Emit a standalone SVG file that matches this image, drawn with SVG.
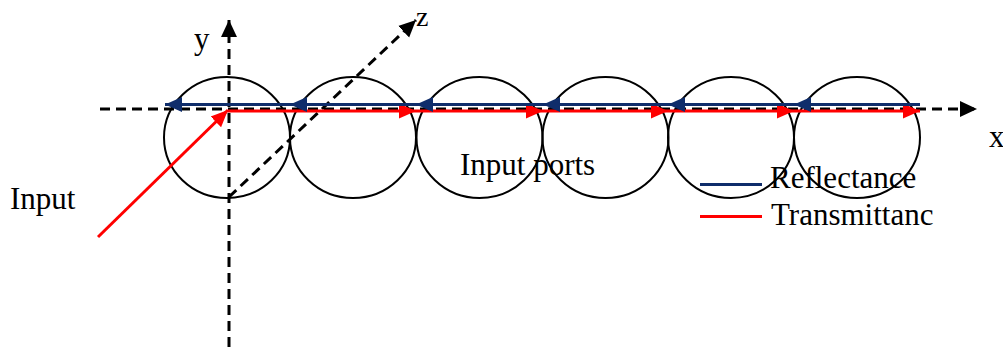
<svg xmlns="http://www.w3.org/2000/svg" width="1003" height="347" viewBox="0 0 1003 347">
<style>
.port{fill:none;stroke:#000;stroke-width:2}
.axis{stroke:#000;stroke-width:3;stroke-dasharray:10,6;fill:none}
.ref{stroke:#0f2d6b;stroke-width:3;fill:none}
.tra{stroke:#ff0000;stroke-width:3;fill:none}
text{font-family:"Liberation Serif","Times New Roman",serif;font-size:31px;fill:#000}
</style>
<defs>
<marker id="ak" markerUnits="userSpaceOnUse" markerWidth="18" markerHeight="18" refX="17" refY="8.5" orient="auto"><path d="M0,0.5 L17,8.5 L0,16.5 z" fill="#000"/></marker>
<marker id="ab" markerUnits="userSpaceOnUse" markerWidth="18" markerHeight="18" refX="17" refY="8.5" orient="auto"><path d="M0,1 L17,8.5 L0,16 z" fill="#0f2d6b"/></marker>
<marker id="ar" markerUnits="userSpaceOnUse" markerWidth="18" markerHeight="18" refX="17" refY="8.5" orient="auto"><path d="M0,1 L17,8.5 L0,16 z" fill="#ff0000"/></marker>
</defs>
<g id="ports">
<ellipse id="port1" class="port" cx="227" cy="137.5" rx="63" ry="60.5"/>
<ellipse id="port2" class="port" cx="353" cy="137.5" rx="63" ry="60.5"/>
<ellipse id="port3" class="port" cx="479.5" cy="137.5" rx="63" ry="60.5"/>
<ellipse id="port4" class="port" cx="605.5" cy="137.5" rx="63" ry="60.5"/>
<ellipse id="port5" class="port" cx="731" cy="137.5" rx="63" ry="60.5"/>
<ellipse id="port6" class="port" cx="857" cy="137.5" rx="63" ry="60.5"/>
</g>
<g id="axes">
<line class="axis" x1="100" y1="109" x2="977" y2="109" marker-end="url(#ak)"/>
<line class="axis" x1="229" y1="347" x2="229" y2="20" marker-end="url(#ak)"/>
<line class="axis" x1="229" y1="197" x2="416" y2="20" marker-end="url(#ak)"/>
</g>
<g id="connectors">
<line class="tra" x1="98" y1="237" x2="228" y2="110" marker-end="url(#ar)"/>
<line class="tra" x1="228" y1="111" x2="416" y2="111" marker-end="url(#ar)"/>
<line class="tra" x1="416" y1="111" x2="543" y2="111" marker-end="url(#ar)"/>
<line class="tra" x1="543" y1="111" x2="668" y2="111" marker-end="url(#ar)"/>
<line class="tra" x1="668" y1="111" x2="794" y2="111" marker-end="url(#ar)"/>
<line class="tra" x1="794" y1="111" x2="920" y2="111" marker-end="url(#ar)"/>
<line class="ref" x1="920" y1="104.5" x2="794" y2="104.5" marker-end="url(#ab)"/>
<line class="ref" x1="794" y1="104.5" x2="668" y2="104.5" marker-end="url(#ab)"/>
<line class="ref" x1="668" y1="104.5" x2="543" y2="104.5" marker-end="url(#ab)"/>
<line class="ref" x1="543" y1="104.5" x2="416" y2="104.5" marker-end="url(#ab)"/>
<line class="ref" x1="416" y1="104.5" x2="290" y2="104.5" marker-end="url(#ab)"/>
<line class="ref" x1="290" y1="104.5" x2="165" y2="104.5" marker-end="url(#ab)"/>
</g>
<g id="legend">
<line class="ref" x1="700" y1="184.5" x2="762" y2="184.5"/>
<line class="tra" x1="700" y1="216.5" x2="762" y2="216.5"/>
<text x="770" y="188">Reflectance</text>
<text x="771" y="225">Transmittanc</text>
</g>
<g id="labels">
<text x="194" y="49">y</text>
<text x="416" y="26" style="font-size:28px">z</text>
<text x="989" y="147">x</text>
<text x="10" y="209">Input</text>
<text x="460" y="175">Input ports</text>
</g>
</svg>
